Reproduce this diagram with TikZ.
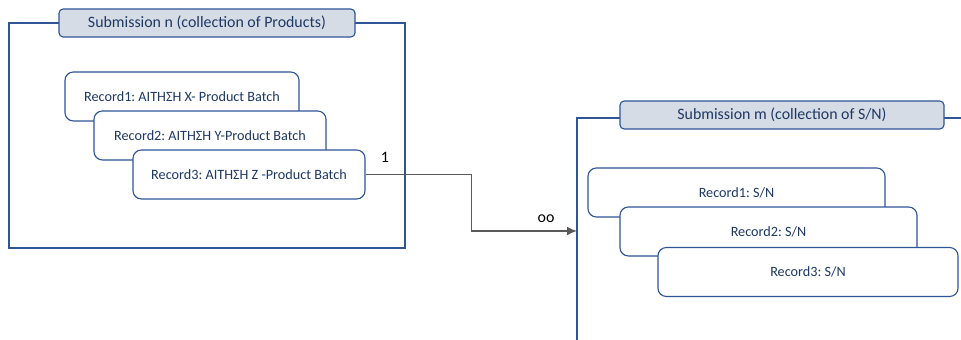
\documentclass[tikz,border=0pt]{standalone}
\usepackage{fontspec}
\setmainfont{Carlito}
\frenchspacing
\usetikzlibrary{positioning,arrows.meta}
\definecolor{frameblue}{HTML}{2F5597}
\definecolor{titlefill}{HTML}{D6DCE5}
\definecolor{textnavy}{HTML}{1F3864}
\definecolor{linkgray}{HTML}{595959}

\begin{document}
\begin{tikzpicture}[x=0.025cm, y=-0.025cm,
  frame/.style={draw=frameblue, line width=0.8pt},
  title/.style={draw=frameblue, fill=titlefill, rounded corners=3pt, line width=0.8pt,
    inner sep=0pt, text=textnavy, font=\fontsize{11.3}{13}\selectfont},
  rec/.style={draw=frameblue, fill=white, rounded corners=6pt, line width=0.8pt,
    inner sep=0pt, minimum height=1.225cm, text=textnavy, font=\fontsize{10.1}{12}\selectfont},
  link/.style={draw=linkgray, line width=0.8pt},
  mult/.style={inner sep=0pt, font=\fontsize{11.3}{13}\selectfont}]
  \useasboundingbox (0,0) rectangle (961,340);
  % left submission
  \draw[frame] (9,23) rectangle (405,248);
  \node[title, minimum width=7.4cm, minimum height=0.7cm] (subn) at (207,23) {Submission n (collection of Products)};
  \node[rec, minimum width=5.85cm] (prod1) at (182,96.5) {Record1: ΑΙΤΗΣΗ X- Product Batch};
  \node[rec, minimum width=5.8cm] (prod2) at (210,135.5) {Record2: ΑΙΤΗΣΗ Y-Product Batch};
  \node[rec, minimum width=5.8cm] (prod3) at (249,174.5) {Record3: ΑΙΤΗΣΗ Z -Product Batch};
  % right submission
  \draw[frame] (961,118) -- (577,118) -- (577,340);
  \node[title, minimum width=8.1cm, minimum height=0.7cm] (subm) at (782,115) {Submission m (collection of S/N)};
  \node[rec, minimum width=7.425cm] (sn1) at (736.5,192.5) {Record1: S/N};
  \node[rec, minimum width=7.425cm] (sn2) at (768.5,231.5) {Record2: S/N};
  \node[rec, minimum width=7.5cm] (sn3) at (808,272) {Record3: S/N};
  % link
  \coordinate (snin) at (577,231);
  \draw[link, -{Latex[length=7pt, width=6pt]}] (prod3.east) -- ++(106,0) |- (snin);
  \node[mult] (one) at (385,157) {1};
  \node[mult] (many) at (546,219) {oo};
\end{tikzpicture}
\end{document}
